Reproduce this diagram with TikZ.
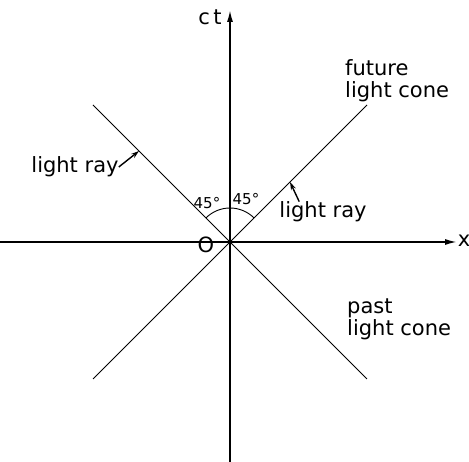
\documentclass[tikz,border=0pt]{standalone}
\usepackage{fontspec}
\setmainfont{DejaVu Sans}
\usetikzlibrary{arrows.meta}

\begin{document}
\begin{tikzpicture}[x=1pt,y=1pt,font=\fontsize{21}{22}\selectfont,
 axis/.style={line width=1.6pt,-{Latex[length=12pt,width=6pt]}},
 cone/.style={line width=1pt},
 angarc/.style={line width=.9pt},
 pointer/.style={line width=1.4pt,-{Stealth[length=8pt,width=5pt]}},
 lbl/.style={inner sep=0pt},
 anglbl/.style={lbl,font=\fontsize{15}{15}\selectfont}]
 \useasboundingbox (-230,-220) rectangle (239,242);
 % axes and cone ends
 \coordinate (O) at (0,0);
 \coordinate (xlo) at (-230,0);
 \coordinate (xhi) at (227,0);
 \coordinate (tlo) at (0,-220);
 \coordinate (thi) at (0,232);
 \coordinate (NE) at (137,137);
 \coordinate (NW) at (-137,137);
 \coordinate (SE) at (137,-137);
 \coordinate (SW) at (-137,-137);
 \draw[axis] (xlo)--(xhi);
 \draw[axis] (tlo)--(thi);
 \foreach \a/\b in {SW/NE,NW/SE} \draw[cone] (\a)--(\b);
 \node[lbl] (tlbl) at (-20,225) {c\,t};
 \node[lbl] (xlbl) at (234,1) {x};
 \node[lbl] (olbl) at (-24,-3) {O};
 % 45 degree marks
 \draw[angarc] (0,34) arc[start angle=90,end angle=135,radius=34];
 \draw[angarc] (0,34) arc[start angle=90,end angle=45,radius=34];
 \node[anglbl] (aleft) at (-23,39) {45°};
 \node[anglbl] (aright) at (16,43) {45°};
 % cone labels
 \node[lbl,anchor=west,align=left] (future) at (115,161) {future\\light cone};
 \node[lbl,anchor=west,align=left] (past) at (117,-77) {past\\light cone};
 % light rays
 \node[lbl] (lray) at (-155,75) {light ray};
 \node[lbl] (rray) at (93,30) {light ray};
 \coordinate (ltip) at (-91,91);
 \coordinate (rtip) at (60,60);
 \draw[pointer] (lray.east)--(ltip);
 \draw[pointer] ([xshift=20pt]rray.north west)--(rtip);
\end{tikzpicture}
\end{document}
